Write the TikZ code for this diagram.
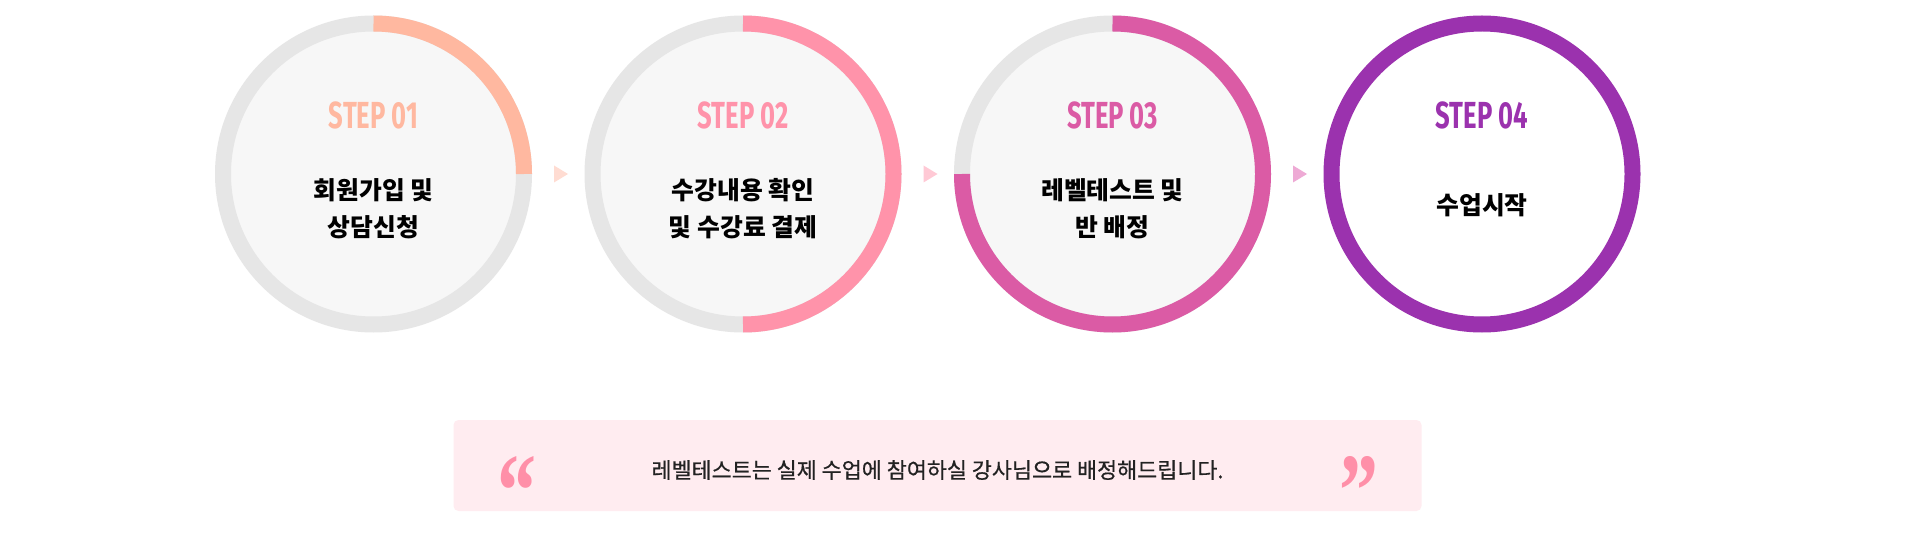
\documentclass[tikz,border=0pt]{standalone}
\usepackage{fontspec}
\newfontfamily\kr{Noto Sans CJK KR}
\newfontfamily\krmed[FakeBold=0.6]{Noto Sans CJK KR}
\newfontfamily\stepf[FakeStretch=0.68]{Fira Sans}
\newfontfamily\qf{Liberation Serif}
\usetikzlibrary{calc}
\definecolor{cA}{HTML}{FFB8A0}
\definecolor{cB}{HTML}{FF93AA}
\definecolor{cC}{HTML}{DB5BA5}
\definecolor{cD}{HTML}{9B32AE}
\definecolor{aA}{HTML}{FFDCD2}
\definecolor{aB}{HTML}{FFC9D5}
\definecolor{aC}{HTML}{EEAAD5}
\definecolor{ringgray}{HTML}{E6E6E6}
\definecolor{innerfill}{HTML}{F7F7F7}
\definecolor{notefill}{HTML}{FFECF0}
\definecolor{quotecol}{HTML}{FF8FA8}
\definecolor{txt}{HTML}{222222}
\tikzset{
  disc/.style={circle, inner sep=0pt, minimum size=286pt, fill=innerfill},
  ringbg/.style={line width=16pt, draw=ringgray},
  ringfg/.style={line width=16pt, draw=#1},
  steplabel/.style={font=\stepf\bfseries\fontsize{37.7}{40}\selectfont, inner sep=0pt},
  steptext/.style={font=\kr\bfseries\fontsize{24.8}{37}\selectfont, align=center, inner sep=0pt, text=black},
  notebox/.style={rectangle, rounded corners=5pt, fill=notefill, inner sep=0pt, minimum width=968pt, minimum height=91pt},
  quotemark/.style={font=\qf\bfseries\fontsize{78}{78}\selectfont, text=quotecol, inner sep=0pt, anchor=base},
  notetext/.style={font=\krmed\fontsize{21.8}{24}\selectfont, text=txt, inner sep=0pt}
}
\newcommand{\qglyph}[1]{\raisebox{-43pt}[34pt][2pt]{\scalebox{1}[1.35]{#1}}}
\begin{document}
\begin{tikzpicture}[x=1pt,y=1pt]
\useasboundingbox (0,0) rectangle (1920,-537);
\fill[white] (0,0) rectangle (1920,-537);

% circles
\node[disc] (c1) at (373.5,-174) {};
\node[disc] (c2) at (743,-174) {};
\node[disc] (c3) at (1112.5,-174) {};
\node[disc, fill=white] (c4) at (1482,-174) {};

\draw[ringbg] (c1.center) circle[radius=150.5pt];
\draw[ringfg=cA] ($(c1.center)+(0,150.5)$) arc[start angle=90, end angle=0, radius=150.5pt];

\draw[ringbg] (c2.center) circle[radius=150.5pt];
\draw[ringfg=cB] ($(c2.center)+(0,150.5)$) arc[start angle=90, end angle=-90, radius=150.5pt];

\draw[ringbg] (c3.center) circle[radius=150.5pt];
\draw[ringfg=cC] ($(c3.center)+(0,150.5)$) arc[start angle=90, end angle=-180, radius=150.5pt];

\draw[ringfg=cD] (c4.center) circle[radius=150.5pt];

% labels
\node[steplabel, text=cA] (s1) at ($(c1.center)+(0,59)$) {STEP 01};
\node[steplabel, text=cB] (s2) at ($(c2.center)+(0,59)$) {STEP 02};
\node[steplabel, text=cC] (s3) at ($(c3.center)+(0,59)$) {STEP 03};
\node[steplabel, text=cD] (s4) at ($(c4.center)+(0,59)$) {STEP 04};

\node[steptext] (t1) at ($(c1.center)+(0,-34.5)$) {회원가입 및\\상담신청};
\node[steptext] (t2) at ($(c2.center)+(0,-34.5)$) {수강내용 확인\\및 수강료 결제};
\node[steptext] (t3) at ($(c3.center)+(0,-34.5)$) {레벨테스트 및\\반 배정};
\node[steptext] (t4) at ($(c4.center)+(0,-31)$) {수업시작};

% arrows
\fill[aA] ($(c1.center)+(180.5,8.5)$) -- ++(14,-8.5) -- ++(-14,-8.5) -- cycle;
\fill[aB] ($(c2.center)+(180.5,8.5)$) -- ++(14,-8.5) -- ++(-14,-8.5) -- cycle;
\fill[aC] ($(c3.center)+(180.5,8.5)$) -- ++(14,-8.5) -- ++(-14,-8.5) -- cycle;

% note
\node[notebox] (note) at (937.5,-465.5) {};
\node[quotemark] (q1) at (517,-483) {\qglyph{“}};
\node[quotemark] (q2) at (1358.5,-483) {\qglyph{”}};
\node[notetext] (nt) at (937.5,-470) {레벨테스트는 실제 수업에 참여하실 강사님으로 배정해드립니다.};
\end{tikzpicture}
\end{document}
